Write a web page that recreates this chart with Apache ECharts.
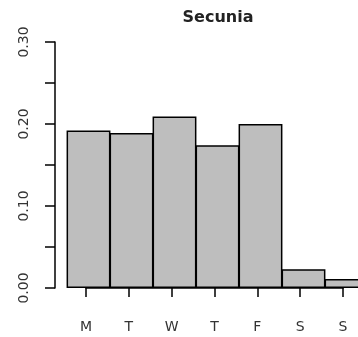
<!DOCTYPE html>
<html><head><meta charset="utf-8">
<script src="https://cdn.jsdelivr.net/npm/echarts@6/dist/echarts.min.js"></script>
<style>html,body{margin:0;padding:0;background:#fff}#c{width:358px;height:337px}</style>
</head><body><div id="c"></div>
<script>
const title = 'Secunia';
const categories = ['M', 'T', 'W', 'T', 'F', 'S', 'S'];
const proportions = [0.192, 0.189, 0.209, 0.174, 0.200, 0.023, 0.011];
const yTicks = [0, 0.05, 0.10, 0.15, 0.20, 0.25, 0.30];

const chart = echarts.init(document.getElementById('c'), null, {renderer: 'canvas'});
const font = '"DejaVu Sans", sans-serif';
chart.setOption({
  animation: false,
  backgroundColor: '#ffffff',
  title: {
    text: title, left: 213, top: 5, textAlign: 'center',
    textStyle: {fontFamily: font, fontSize: 16, fontWeight: 'bold', color: '#222'}
  },
  grid: [
    {left: 67, width: 301, top: 42, bottom: 49, containLabel: false, outerBoundsMode: 'none'},
    {left: 86, width: 257, top: 42, bottom: 49, containLabel: false, outerBoundsMode: 'none'}
  ],
  xAxis: [
    {type: 'category', gridIndex: 0, data: categories, boundaryGap: true,
     axisLine: {show: false}, axisTick: {show: false}, axisLabel: {show: false}},
    {type: 'category', gridIndex: 1, data: categories, boundaryGap: false, offset: 10,
     axisLine: {show: true, lineStyle: {color: '#000', width: 1.5}},
     axisTick: {show: true, length: 9, alignWithLabel: true, lineStyle: {color: '#000', width: 1.5}},
     axisLabel: {show: true, interval: 0, margin: 22, color: '#333', fontFamily: font, fontSize: 14}}
  ],
  yAxis: [
    {type: 'value', gridIndex: 0, min: yTicks[0], max: yTicks[yTicks.length - 1], interval: 0.05, offset: 12,
     splitLine: {show: false},
     axisLine: {show: true, lineStyle: {color: '#000', width: 1.5}},
     axisTick: {show: true, length: 10, lineStyle: {color: '#000', width: 1.5}},
     axisLabel: {show: true, rotate: 90, margin: 24, color: '#333', fontFamily: font, fontSize: 14,
       formatter: v => (Math.round(v * 100) % 10 === 0 ? v.toFixed(2) : '')}},
    {type: 'value', gridIndex: 1, min: 0, max: 0.3, show: false}
  ],
  series: [{
    type: 'bar', xAxisIndex: 0, yAxisIndex: 0, data: proportions,
    barWidth: '102%', barCategoryGap: '0%',
    itemStyle: {color: '#bebebe', borderColor: '#000', borderWidth: 1.5}
  }]
});
</script></body></html>
